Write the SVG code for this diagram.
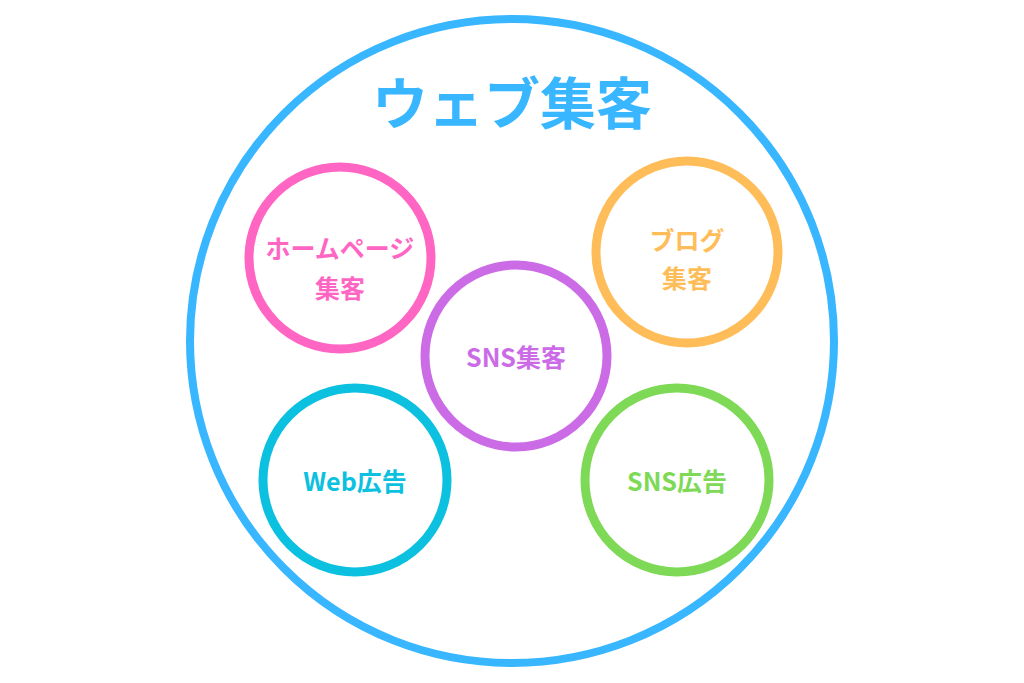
<svg xmlns="http://www.w3.org/2000/svg" width="1024" height="683" viewBox="0 0 1024 683">
<style>
.c{fill:none;stroke-width:9}
.t{font-family:"Noto Sans CJK JP","Noto Sans",sans-serif;font-weight:bold;font-size:25px;text-anchor:middle}
</style>
<rect width="1024" height="683" fill="#fff"/>
<g id="web">
<circle cx="512" cy="341" r="322" fill="none" stroke="#38b6ff" stroke-width="8"/>
<text x="512" y="124" class="t" font-size="56" style="font-size:56px" fill="#38b6ff">ウェブ集客</text>
</g>
<g id="homepage"><circle class="c" cx="340" cy="258" r="91" stroke="#ff66c4"/>
<text class="t" fill="#ff66c4" x="340" y="258">ホームページ</text><text class="t" fill="#ff66c4" x="340" y="298">集客</text></g>
<g id="blog"><circle class="c" cx="687" cy="252" r="91" stroke="#ffbd59"/>
<text class="t" fill="#ffbd59" x="687" y="250">ブログ</text><text class="t" fill="#ffbd59" x="687" y="288">集客</text></g>
<g id="sns"><circle class="c" cx="516" cy="356" r="91" stroke="#cb6ce6"/>
<text class="t" fill="#cb6ce6" x="516" y="367">SNS集客</text></g>
<g id="webad"><circle class="c" cx="355" cy="480" r="92" stroke="#0cc0df"/>
<text class="t" fill="#0cc0df" x="355" y="491">Web広告</text></g>
<g id="snsad"><circle class="c" cx="677" cy="480" r="92" stroke="#7ed957"/>
<text class="t" fill="#7ed957" x="677" y="491">SNS広告</text></g>
<g id="connectors"/>
</svg>
